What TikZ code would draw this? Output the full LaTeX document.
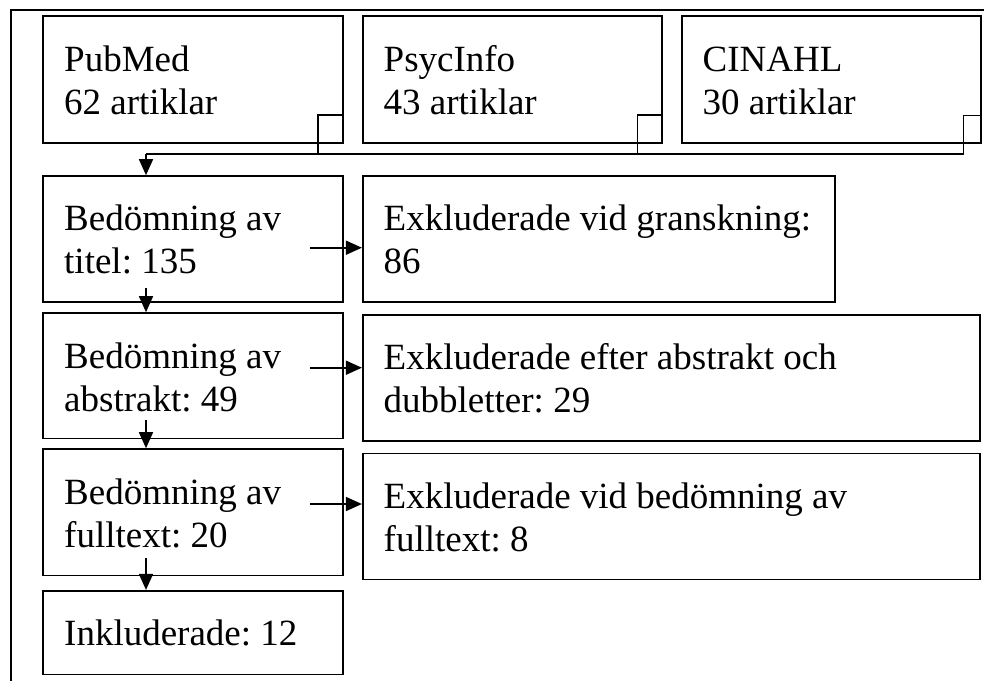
\documentclass[tikz,border=0pt]{standalone}
\usepackage{fontspec}
\setmainfont{Liberation Serif}
\usetikzlibrary{arrows.meta,calc}
\frenchspacing
\begin{document}
\begin{tikzpicture}[x=1pt,y=-1pt,
  ln/.style={line width=1.6pt,black},
  box/.style={ln,draw,inner sep=0pt,rectangle},
  txt/.style={anchor=base west,inner sep=0pt,font=\fontsize{37}{43.3}\selectfont\frenchspacing},
  arr/.style={ln,-{Triangle[length=16pt,width=14pt]}}]
\useasboundingbox (0,0) rectangle (984,681);
% outer frame (only top and left edges visible)
\draw[ln] (984,10) -- (11,10) -- (11,681);
% boxes
\node[box,minimum width=300pt,minimum height=127pt] (pubmed) at (193,79.5) {};
\node[box,minimum width=299pt,minimum height=127pt] (psyc) at (512.2,79.5) {};
\node[box,minimum width=299.3pt,minimum height=127pt] (cinahl) at (831.35,79.5) {};
\node[box,minimum width=300pt,minimum height=126pt] (titel) at (193,239) {};
\node[box,minimum width=472.3pt,minimum height=126pt] (excl1) at (598.85,239) {};
\node[box,minimum width=300pt,minimum height=125.5pt] (abstr) at (193,375.75) {};
\node[box,minimum width=617.3pt,minimum height=125.7pt] (excl2) at (671.35,377.85) {};
\node[box,minimum width=300pt,minimum height=126.3pt] (full) at (193,512.15) {};
\node[box,minimum width=617.3pt,minimum height=126pt] (excl3) at (671.35,516.3) {};
\node[box,minimum width=300pt,minimum height=83.6pt] (inkl) at (193,632.5) {};
% texts
\node[txt] (tpubmed) at (64,71.5) {\begin{tabular}[t]{@{}l@{}}PubMed\\62 artiklar\end{tabular}};
\node[txt] (tpsyc) at (383.5,71.5) {\begin{tabular}[t]{@{}l@{}}PsycInfo\\43 artiklar\end{tabular}};
\node[txt] (tcinahl) at (702.5,71.5) {\begin{tabular}[t]{@{}l@{}}CINAHL\\30 artiklar\end{tabular}};
\node[txt] (ttitel) at (64,230.5) {\begin{tabular}[t]{@{}l@{}}Bedömning av\\titel: 135\end{tabular}};
\node[txt] (texcl1) at (383.5,230.5) {\begin{tabular}[t]{@{}l@{}}Exkluderade vid granskning:\\86\end{tabular}};
\node[txt] (tabstr) at (64,368) {\begin{tabular}[t]{@{}l@{}}Bedömning av\\abstrakt: 49\end{tabular}};
\node[txt] (texcl2) at (383.5,369.5) {\begin{tabular}[t]{@{}l@{}}Exkluderade efter abstrakt och\\dubbletter: 29\end{tabular}};
\node[txt] (tfull) at (64,504) {\begin{tabular}[t]{@{}l@{}}Bedömning av\\fulltext: 20\end{tabular}};
\node[txt] (texcl3) at (383.5,508.3) {\begin{tabular}[t]{@{}l@{}}Exkluderade vid bedömning av\\fulltext: 8\end{tabular}};
\node[txt] (tinkl) at (64,645) {Inkluderade: 12};
% connectors from the databases
\coordinate (join) at (146,154);
\draw[ln] ($(pubmed.south east)+(0,-28.7)$) -- ++(-26,0) |- (join);
\draw[ln] ($(psyc.south east)+(0,-28.7)$) -- ++(-25,0) |- (join);
\draw[ln] ($(cinahl.south east)+(0,-28.3)$) -- ++(-18.3,0) |- (join);
\draw[arr] (join) -- (join |- titel.north);
% downward arrows
\coordinate (d1) at (146,288);
\coordinate (d2) at (146,420);
\coordinate (d3) at (146,558);
\draw[arr] (d1) -- (d1 |- abstr.north);
\draw[arr] (d2) -- (d2 |- full.north);
\draw[arr] (d3) -- (d3 |- inkl.north);
% rightward arrows
\coordinate (r1) at (310,247.7);
\coordinate (r2) at (310,367.7);
\coordinate (r3) at (310,504);
\draw[arr] (r1) -- (r1 -| excl1.west);
\draw[arr] (r2) -- (r2 -| excl2.west);
\draw[arr] (r3) -- (r3 -| excl3.west);
\end{tikzpicture}
\end{document}
